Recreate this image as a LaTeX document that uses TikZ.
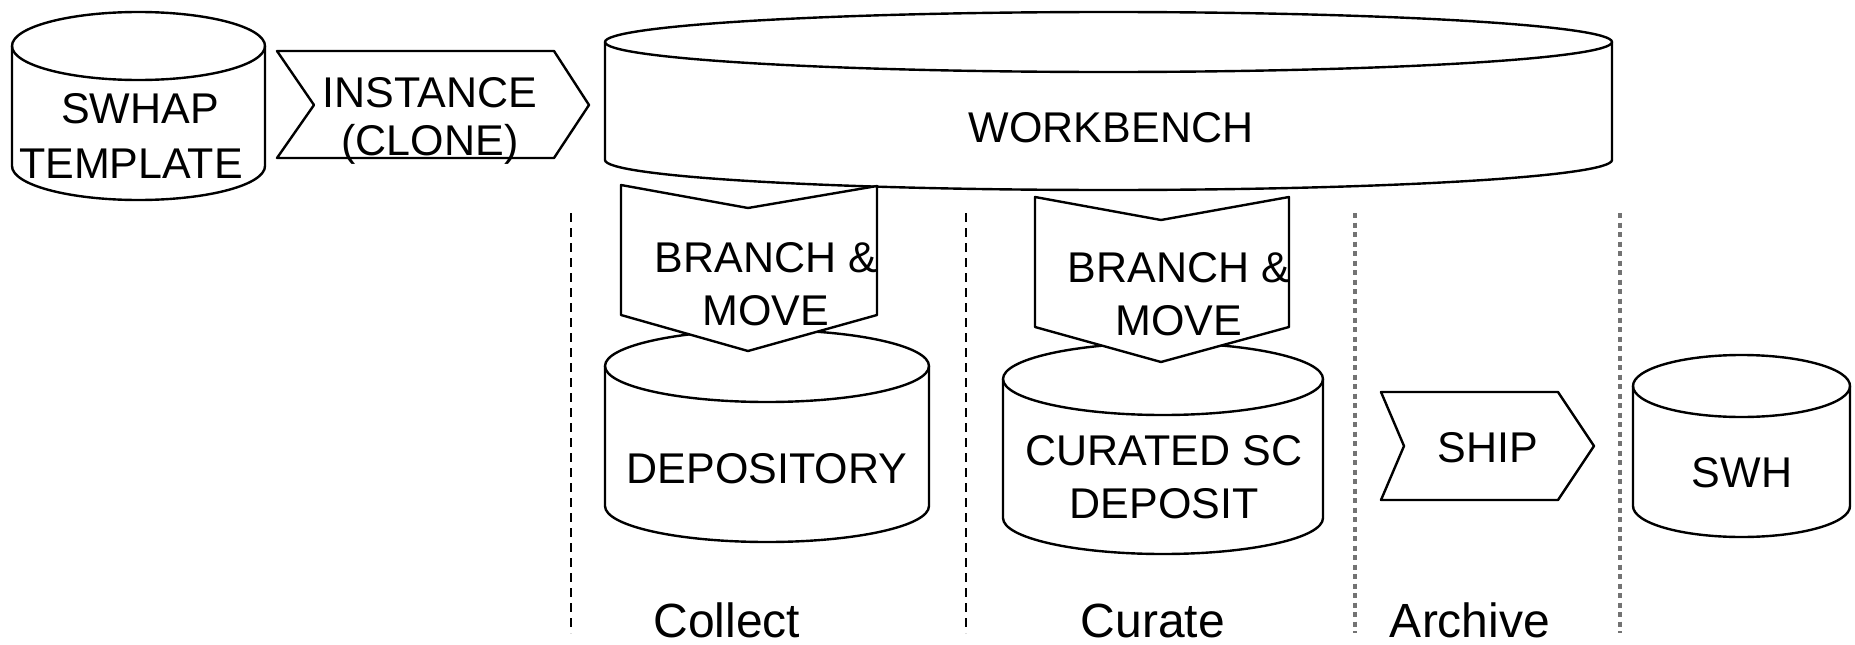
\documentclass[tikz,border=0pt]{standalone}
\usepackage{fontspec}
\setmainfont{Liberation Sans}
\newcommand\dbcyl[5]{% x1, x2, ytop, ybot, ry (pixel units, y downward)
  \pgfmathsetmacro\cylrx{(#2-#1)/2}
  \pgfmathsetmacro\cylyt{-(#3+#5)}
  \pgfmathsetmacro\cylyb{-(#4-#5)}
  \path[outl] (#1,\cylyt) -- (#1,\cylyb)
     arc[start angle=180,end angle=360,x radius=\cylrx pt,y radius=#5 pt]
     -- (#2,\cylyt)
     arc[start angle=0,end angle=180,x radius=\cylrx pt,y radius=#5 pt] -- cycle;
  \draw[outl,fill=none] (#1,\cylyt)
     arc[start angle=180,end angle=360,x radius=\cylrx pt,y radius=#5 pt];
}
\begin{document}
\begin{tikzpicture}[x=1pt,y=1pt,
  outl/.style={draw=black,line width=2.4pt,fill=white,line join=round},
  lbl/.style={font=\fontsize{43}{50}\selectfont,inner sep=0pt,anchor=base},
  phase/.style={font=\fontsize{48}{56}\selectfont,inner sep=0pt,anchor=base},
  dashdiv/.style={draw=black,line width=2pt,dash pattern=on 9pt off 6pt},
  dotdiv/.style={draw=black!55,line width=4.5pt,dash pattern=on 5pt off 4.5pt}]
\useasboundingbox[fill=white] (0,0) rectangle (1855,-645);

% phase dividers
\coordinate (d1t) at (571,-213); \coordinate (d1b) at (571,-633);
\coordinate (d2t) at (966,-213); \coordinate (d2b) at (966,-633);
\coordinate (d3t) at (1355,-213); \coordinate (d3b) at (1355,-633);
\coordinate (d4t) at (1620,-213); \coordinate (d4b) at (1620,-633);
\draw[dashdiv] (d1t) -- (d1b);
\draw[dashdiv] (d2t) -- (d2b);
\draw[dotdiv] (d3t) -- (d3b);
\draw[dotdiv] (d4t) -- (d4b);

% stores
\dbcyl{605}{1612}{12}{190}{30}   % workbench
\dbcyl{12}{265}{12}{200}{34}     % swhap template
\dbcyl{605}{929}{330}{542}{36}   % depository
\dbcyl{1003}{1323}{343}{554}{36} % curated
\dbcyl{1633}{1850}{355}{537}{31} % swh

% step chevrons
\path[outl] (277,-51) -- (554,-51) -- (589,-105) -- (554,-158) -- (277,-158) -- (314,-105) -- cycle;
\path[outl] (621,-185) -- (748,-208) -- (877,-186) -- (877,-315) -- (748,-351) -- (621,-315) -- cycle;
\path[outl] (1035,-197) -- (1161,-220) -- (1289,-197) -- (1289,-327) -- (1161,-362) -- (1035,-327) -- cycle;
\path[outl] (1381,-392) -- (1558,-392) -- (1594,-446) -- (1558,-500) -- (1381,-500) -- (1404,-446) -- cycle;

% texts
\node[lbl] (swhapa) at (140,-123) {SWHAP};
\node[lbl] (swhapb) at (131,-178) {TEMPLATE};
\node[lbl] (insta) at (430,-107) {INSTANCE};
\node[lbl] (instb) at (430,-155) {(CLONE)};
\node[lbl] (wb) at (1111,-142) {WORKBENCH};
\node[lbl] (bm1a) at (766,-272) {BRANCH \&};
\node[lbl] (bm1b) at (766,-325) {MOVE};
\node[lbl] (bm2a) at (1179,-282) {BRANCH \&};
\node[lbl] (bm2b) at (1179,-335) {MOVE};
\node[lbl] (dep) at (767,-483) {DEPOSITORY};
\node[lbl] (cura) at (1164,-465) {CURATED SC};
\node[lbl] (curb) at (1164,-518) {DEPOSIT};
\node[lbl] (ship) at (1488,-462) {SHIP};
\node[lbl] (swh) at (1742,-487) {SWH};
\node[phase] (collect) at (727,-637) {Collect};
\node[phase] (curate) at (1153,-637) {Curate};
\node[phase] (archive) at (1470,-637) {Archive};
\end{tikzpicture}
\end{document}
